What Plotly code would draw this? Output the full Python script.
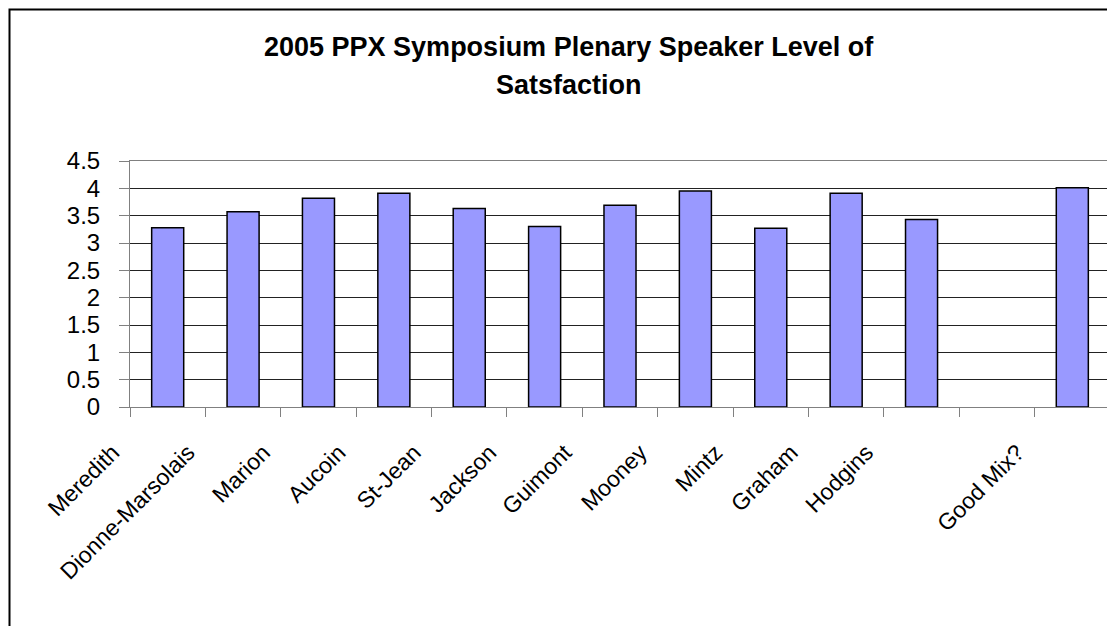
import plotly.graph_objects as go

categories = ["Meredith", "Dionne-Marsolais", "Marion", "Aucoin", "St-Jean", "Jackson",
              "Guimont", "Mooney", "Mintz", "Graham", "Hodgins", " ", "Good Mix?"]
values = [3.28, 3.57, 3.82, 3.91, 3.63, 3.30, 3.69, 3.95, 3.27, 3.91, 3.43, None, 4.01]
y_ticks = [0, 0.5, 1, 1.5, 2, 2.5, 3, 3.5, 4, 4.5]
y_tick_labels = ["0", "0.5", "1", "1.5", "2", "2.5", "3", "3.5", "4", "4.5"]
title_lines = ["2005 PPX Symposium Plenary Speaker Level of", "Satsfaction"]

FONT = "Arial, Liberation Sans, sans-serif"

fig = go.Figure(go.Bar(
    x=categories, y=values,
    marker=dict(color="#9999FF", line=dict(color="black", width=1.5)),
    hoverinfo="x+y",
))

# page body has an 8px default margin; figure sized so that it fills the window
OFF = 8
W, H = 1115 - OFF, 626 - OFF
L, R, T, B = 130 - OFF, 5, 161 - OFF, 219
plot_w = W - L - R
plot_h = H - T - B

def px_to_paper_x(px):
    return (px - OFF - L) / plot_w

def px_to_paper_y(py):
    return (H - B - (py - OFF)) / plot_h

fig.update_layout(
    width=W, height=H,
    margin=dict(l=L, r=R, t=T, b=B),
    paper_bgcolor="white", plot_bgcolor="white",
    bargap=0.575,
    showlegend=False,
    font=dict(family=FONT, color="black"),
)

fig.update_xaxes(
    type="category",
    tickangle=-45,
    tickfont=dict(size=23, family=FONT, color="black"),
    showline=True, linecolor="#808080", linewidth=1, mirror=True,
    ticks="outside", tickson="boundaries", ticklen=9, tickcolor="#808080",
    showgrid=False,
    ticklabelshift=-55,
    ticklabelstandoff=22,
)

fig.update_yaxes(
    range=[0, 4.5],
    tickvals=y_ticks, ticktext=y_tick_labels,
    tickfont=dict(size=24, family=FONT, color="black"),
    showline=True, linecolor="#808080", linewidth=1, mirror=True,
    ticks="outside", ticklen=10, tickcolor="#808080",
    showgrid=True, gridcolor="#222222", gridwidth=1,
    zeroline=False,
    ticklabelstandoff=14,
)

for line, cy in zip(title_lines, [47, 85]):
    fig.add_annotation(
        text=f"<b>{line}</b>", xref="paper", yref="paper",
        x=px_to_paper_x(569), y=px_to_paper_y(cy),
        xanchor="center", yanchor="middle", showarrow=False,
        font=dict(size=27, family=FONT, color="black"),
    )

# outer chart border
fig.add_shape(
    type="rect", xref="paper", yref="paper",
    x0=px_to_paper_x(9.5), x1=px_to_paper_x(1130),
    y0=px_to_paper_y(650), y1=px_to_paper_y(9.5),
    line=dict(color="black", width=2), fillcolor="rgba(0,0,0,0)", layer="above",
)

fig.write_html("out.html")
